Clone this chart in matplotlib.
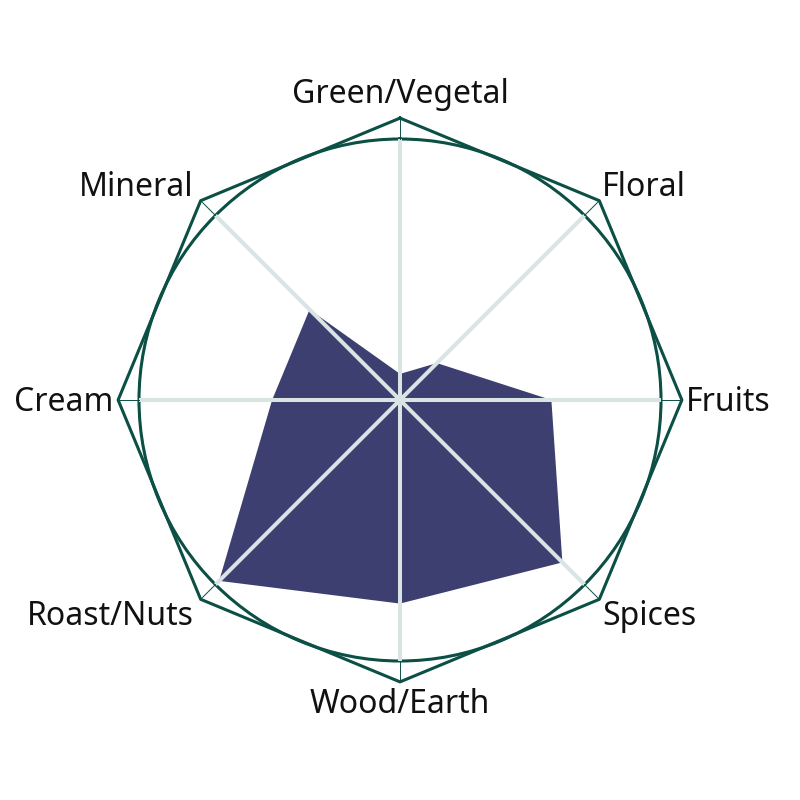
import numpy as np
import matplotlib
matplotlib.use("Agg")
import matplotlib.pyplot as plt

categories = ["Green/Vegetal", "Floral", "Fruits", "Spices",
              "Wood/Earth", "Roast/Nuts", "Cream", "Mineral"]
values = [0.10, 0.20, 0.58, 0.88, 0.78, 0.98, 0.49, 0.49]
outer_level = 1.08

plt.rcParams['font.family'] = ['Noto Sans', 'DejaVu Sans']

DARK = '#0b4f45'
SPOKE = '#d9e4e4'
FILL = '#3c3f6f'

fig = plt.figure(figsize=(8, 8), dpi=100)
r_px = 261
ax = fig.add_axes([(400 - r_px) / 800, (400 - r_px) / 800, 2 * r_px / 800, 2 * r_px / 800],
                  projection='polar')
ax.set_theta_zero_location('N')
ax.set_theta_direction(-1)
ax.set_ylim(0, 1)

n = len(categories)
angles = np.arange(n) * 2 * np.pi / n

# data polygon
ax.fill(np.append(angles, angles[0]), values + values[:1], color=FILL, zorder=1, lw=0)

# spokes
ax.set_xticks(angles)
ax.set_xticklabels([])
ax.set_yticks([])
ax.set_axisbelow(False)
ax.xaxis.grid(True, color=SPOKE, linewidth=2.9)
ax.tick_params(axis='x', length=0)

# outer circle
ax.spines['polar'].set_color(DARK)
ax.spines['polar'].set_linewidth(2.2)

# octagon
oct_r = [outer_level] * (n + 1)
ax.plot(np.append(angles, angles[0]), oct_r, color=DARK, lw=2.2, clip_on=False, zorder=3)
for a in angles:
    ax.plot([a, a], [1.0, outer_level], color=DARK, lw=0.7, clip_on=False, zorder=3)

# labels: (ha, dx px, dy px) relative to octagon vertex, baseline aligned
offsets = [
    ('center', 0, 15),
    ('left', 3, 5),
    ('left', 4, -11),
    ('left', 3, -26),
    ('center', 0, -31),
    ('right', -7, -26),
    ('right', -5, -11),
    ('right', -7, 5),
]
for a, lab, (ha, dx, dy) in zip(angles, categories, offsets):
    ax.annotate(lab, xy=(a, outer_level), xytext=(dx * 0.72, dy * 0.72),
                textcoords='offset points', ha=ha, va='baseline',
                fontsize=23, color='#111111', annotation_clip=False)

fig.savefig('out.png', dpi=100, facecolor='white')
